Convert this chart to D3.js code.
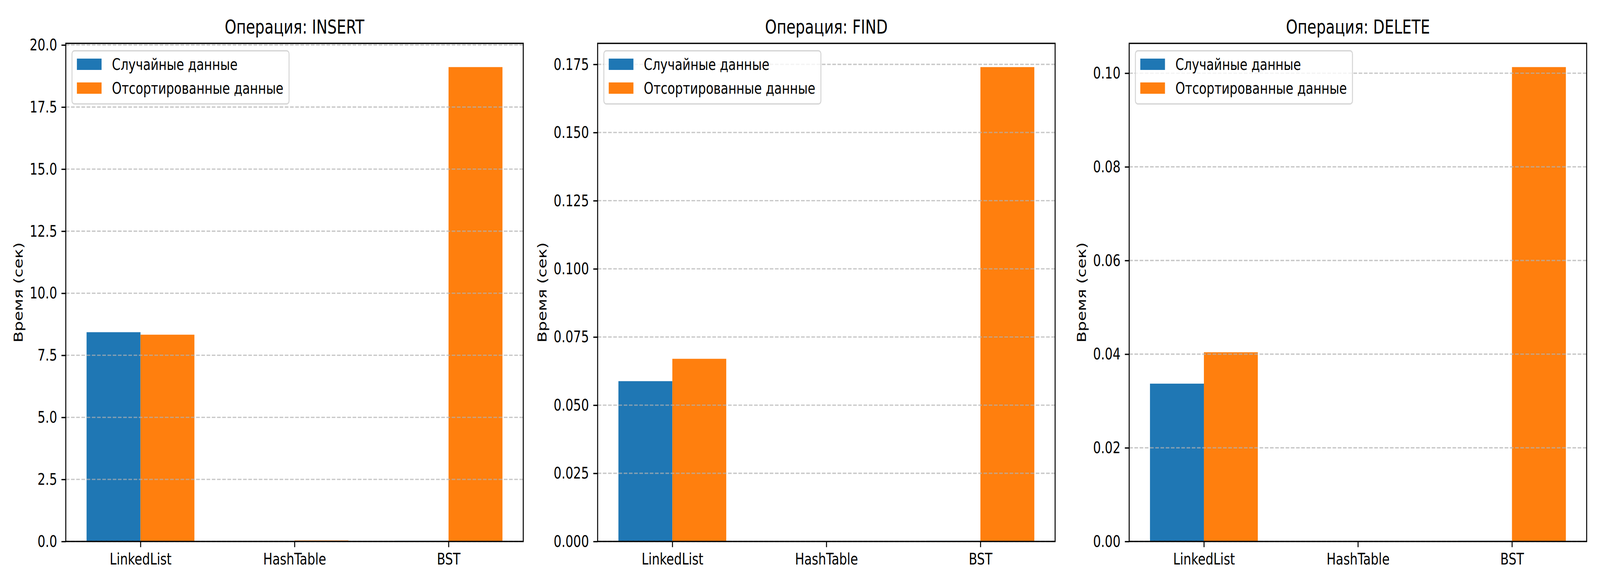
<!DOCTYPE html>
<html>
<head>
<meta charset="utf-8">
<script src="https://cdn.jsdelivr.net/npm/d3@7"></script>
<style>
  html, body { margin: 0; padding: 0; background: #fff; overflow: hidden; }
  svg { display: block; font-family: "DejaVu Sans", sans-serif; }
</style>
</head>
<body>
<svg id="chart" viewBox="0 0 5400 1500" preserveAspectRatio="none" style="width:100vw;height:100vh"></svg>
<script>
  'use strict';

  // data
  var categories = ["LinkedList", "HashTable", "BST"];
  var operations = ["INSERT", "FIND", "DELETE"];
  var seriesNames = ["Случайные данные", "Отсортированные данные"];
  var seriesColors = ["#1f77b4", "#ff7f0e"];

  var randomTimes = [
    [8.43, 0.004, 0.025],
    [0.0588, 0.00003, 0.00023],
    [0.0337, 0.00002, 0.00013]
  ];
  var sortedTimes = [
    [8.33, 0.041, 19.11],
    [0.0670, 0.00003, 0.1740],
    [0.0404, 0.00002, 0.1013]
  ];

  var yTicks = [
    [0, 2.5, 5, 7.5, 10, 12.5, 15, 17.5, 20],
    [0, 0.025, 0.05, 0.075, 0.1, 0.125, 0.15, 0.175],
    [0, 0.02, 0.04, 0.06, 0.08, 0.1]
  ];
  var yTickFormats = [".1f", ".3f", ".2f"];

  // layout (pixels, 300 dpi); the viewBox stretches it to the window
  var panelLeft = [222, 2017, 3811];
  var panelWidth = 1544;
  var panelTop = 111;
  var panelBottom = 1386;
  var barWidth = 0.35;
  var lw = 3.33;
  var tickLen = 14.6;
  var tickPad = 14.6;
  var fontSize = 41.67;

  var svg = d3.select("#chart");
  svg.append("rect").attr("width", 5400).attr("height", 1500).attr("fill", "#fff");

  operations.forEach(function(op, i) {
    var left = panelLeft[i];
    var g = svg.append("g").attr("class", "panel");

    var x = d3.scaleLinear()
      .domain([-barWidth - 0.135, categories.length - 1 + barWidth + 0.135])
      .range([left, left + panelWidth]);

    var maxVal = d3.max(randomTimes[i].concat(sortedTimes[i]));
    var y = d3.scaleLinear()
      .domain([0, maxVal * 1.05])
      .range([panelBottom, panelTop]);

    // bars
    var series = [randomTimes[i], sortedTimes[i]];
    series.forEach(function(vals, s) {
      g.append("g").selectAll("rect")
        .data(vals)
        .enter().append("rect")
        .attr("x", function(d, k) { return x(s === 0 ? k - barWidth : k); })
        .attr("width", function() { return x(barWidth) - x(0); })
        .attr("y", function(d) { return y(d); })
        .attr("height", function(d) { return y(0) - y(d); })
        .attr("fill", seriesColors[s]);
    });

    // horizontal dashed grid, drawn above the bars
    g.append("g").selectAll("line")
      .data(yTicks[i])
      .enter().append("line")
      .attr("x1", left).attr("x2", left + panelWidth)
      .attr("y1", function(d) { return y(d); })
      .attr("y2", function(d) { return y(d); })
      .attr("stroke", "#b0b0b0")
      .attr("stroke-opacity", 0.7)
      .attr("stroke-width", lw)
      .attr("stroke-dasharray", "12.3,5.3");

    // axes
    var yAxis = d3.axisLeft(y)
      .tickValues(yTicks[i])
      .tickFormat(d3.format(yTickFormats[i]))
      .tickSize(tickLen)
      .tickPadding(tickPad);
    var yg = g.append("g")
      .attr("transform", "translate(" + left + ",0)")
      .call(yAxis);

    var xAxis = d3.axisBottom(x)
      .tickValues(d3.range(categories.length))
      .tickFormat(function(d) { return categories[d]; })
      .tickSize(tickLen)
      .tickPadding(tickPad);
    var xg = g.append("g")
      .attr("transform", "translate(0," + panelBottom + ")")
      .call(xAxis);

    [yg, xg].forEach(function(ax) {
      ax.select(".domain").remove();
      ax.selectAll(".tick line").attr("stroke", "#000").attr("stroke-width", lw);
      ax.selectAll(".tick text")
        .attr("fill", "#000")
        .style("font-size", fontSize + "px")
        .style("font-family", "'DejaVu Sans'");
    });

    // spines
    g.append("rect")
      .attr("x", left).attr("y", panelTop)
      .attr("width", panelWidth).attr("height", panelBottom - panelTop)
      .attr("fill", "none")
      .attr("stroke", "#000")
      .attr("stroke-width", lw);

    // y label placed left of the widest tick label
    var labelLeft = d3.min(yg.selectAll(".tick text").nodes(), function(n) {
      var b = n.getBBox();
      return left - tickLen - tickPad - b.width;
    });
    g.append("text")
      .attr("transform", "translate(" + (labelLeft - 23.5) + "," + ((panelTop + panelBottom) / 2) + ") rotate(-90)")
      .attr("text-anchor", "middle")
      .style("font-size", fontSize + "px")
      .text("Время (сек)");

    // title
    g.append("text")
      .attr("x", left + panelWidth / 2)
      .attr("y", panelTop - 25)
      .attr("text-anchor", "middle")
      .style("font-size", "50px")
      .text("Операция: " + op);

    // legend
    var lx = left + 21;
    var ly = panelTop + 19;
    var leg = g.append("g").attr("class", "legend");
    var frame = leg.append("rect")
      .attr("x", lx).attr("y", ly)
      .attr("rx", 8).attr("ry", 8)
      .attr("height", 136)
      .attr("fill", "#fff")
      .attr("fill-opacity", 0.8)
      .attr("stroke", "#d6d6d6")
      .attr("stroke-width", lw);

    var textW = 0;
    seriesNames.forEach(function(name, s) {
      var py = ly + 20 + s * 61;
      leg.append("rect")
        .attr("x", lx + 16.5).attr("y", py)
        .attr("width", 83.3).attr("height", 29)
        .attr("fill", seriesColors[s]);
      var t = leg.append("text")
        .attr("x", lx + 16.5 + 83.3 + 35)
        .attr("y", py + 14.5)
        .attr("dy", "0.35em")
        .style("font-size", fontSize + "px")
        .text(name);
      textW = Math.max(textW, t.node().getComputedTextLength());
    });
    frame.attr("width", 16.5 + 83.3 + 35 + textW + 19);
  });
</script>
</body>
</html>
